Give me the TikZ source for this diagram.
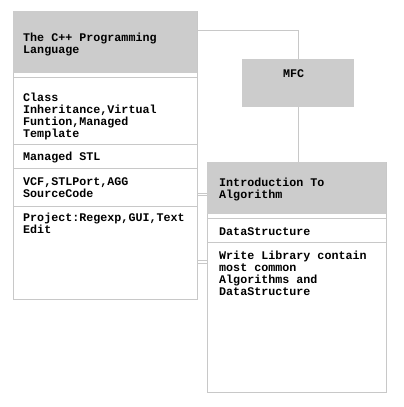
\documentclass[tikz,border=0pt]{standalone}
\usepackage{fontspec}
\setmonofont{Liberation Mono}
\definecolor{headg}{RGB}{204,204,204}
\definecolor{lineg}{RGB}{200,200,200}
\begin{document}
\begin{tikzpicture}[x=1pt,y=-1pt,
  box/.style={draw=lineg, line width=1pt, fill=white, anchor=north west, inner sep=0pt, outer sep=0pt},
  head/.style={fill=headg, anchor=north west, inner sep=0pt, outer sep=0pt},
  sep/.style={draw=lineg, line width=1pt},
  conn/.style={draw=lineg, line width=1pt},
  txt/.style={anchor=base west, inner sep=0pt, align=left, font=\fontsize{11.7}{12}\selectfont\ttfamily\bfseries}]
\useasboundingbox (0,0) rectangle (404,407);
% left class box
\node[box, minimum width=184pt, minimum height=288pt] (L) at (13,11) {};
\node[head, minimum width=184pt, minimum height=62pt] (LH) at (13,11) {};
\draw[sep] (L.west |- 0,77) -- (L.east |- 0,77);
\draw[sep] (L.west |- 0,144) -- (L.east |- 0,144);
\draw[sep] (L.west |- 0,168) -- (L.east |- 0,168);
\draw[sep] (L.west |- 0,206) -- (L.east |- 0,206);
\node[txt] (t1) at (23,53) {The C++ Programming\\Language};
\node[txt] (t2) at (23,137.5) {Class\\Inheritance,Virtual\\Funtion,Managed\\Template};
\node[txt] (t3) at (23,160) {Managed STL};
\node[txt] (t4) at (23,197.3) {VCF,STLPort,AGG\\SourceCode};
\node[txt] (t5) at (23,233.7) {Project:Regexp,GUI,Text\\Edit};
% MFC box
\node[head, minimum width=112pt, minimum height=48pt] (M) at (242,59) {};
\node[txt] (t6) at (283,77.3) {MFC};
% intro box
\node[box, minimum width=179pt, minimum height=230pt] (I) at (207,162) {};
\node[head, minimum width=179pt, minimum height=52pt] (IH) at (207,162) {};
\draw[sep] (I.west |- 0,218) -- (I.east |- 0,218);
\draw[sep] (I.west |- 0,242) -- (I.east |- 0,242);
\node[txt] (t7) at (219,198.7) {Introduction To\\Algorithm};
\node[txt] (t8) at (219,235.3) {DataStructure};
\node[txt] (t9) at (219,295.3) {Write Library contain\\most common\\Algorithms and\\DataStructure};
% connectors
\draw[conn] (L.east |- 0,30.5) -| (M.north);
\draw[conn] (M.south) -- (M.south |- I.north);
\draw[conn] (L.east |- 0,193.3) -- (I.west |- 0,193.3);
\draw[conn] (L.east |- 0,195.9) -- (I.west |- 0,195.9);
\draw[conn] (L.east |- 0,260.9) -- (I.west |- 0,260.9);
\draw[conn] (L.east |- 0,263.6) -- (I.west |- 0,263.6);
\end{tikzpicture}
\end{document}
